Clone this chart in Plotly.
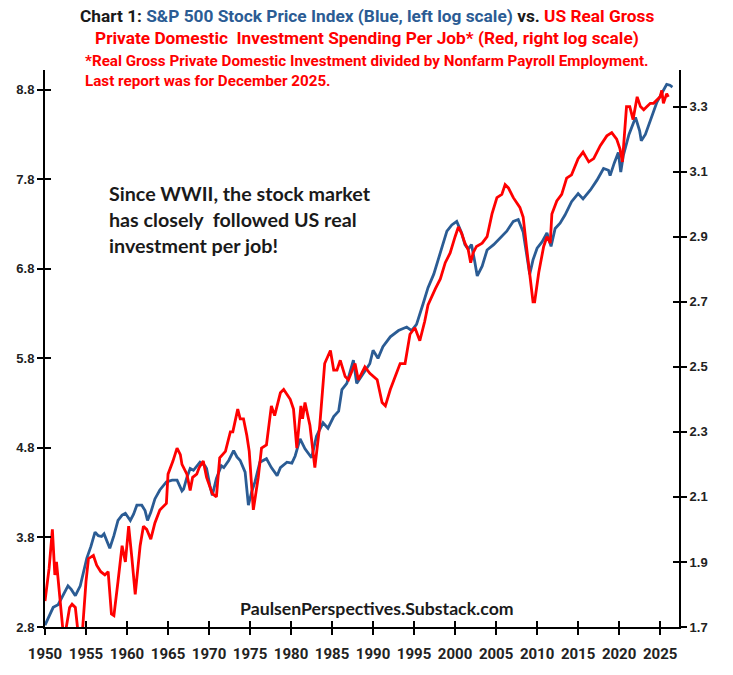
import plotly.graph_objects as go

# ---------------- data ----------------
blue_years = [1950.0, 1950.5, 1951.0, 1951.6, 1952.2, 1952.8, 1953.2, 1953.7, 1954.3, 1954.7,
              1955.1, 1955.6, 1956.1, 1956.5, 1956.9, 1957.2, 1957.9, 1958.4, 1958.9, 1959.4,
              1959.8, 1960.4, 1960.8, 1961.2, 1961.8, 1962.2, 1962.5, 1962.9, 1963.4, 1964.0,
              1964.8, 1965.5, 1966.1, 1966.7, 1966.9, 1967.3, 1967.7, 1968.1, 1968.7, 1968.9,
              1969.5, 1969.7, 1970.1, 1970.4, 1970.9, 1971.5, 1971.8, 1972.4, 1973.0, 1973.4,
              1973.8, 1974.4, 1974.8, 1975.2, 1975.6, 1976.2, 1977.0, 1977.6, 1978.3, 1978.7,
              1979.5, 1980.1, 1980.5, 1981.1, 1981.7, 1982.5, 1983.1, 1983.9, 1984.5, 1985.2,
              1985.8, 1986.2, 1986.8, 1987.6, 1988.0, 1988.8, 1989.6, 1990.0, 1990.6, 1991.2,
              1992.1, 1993.1, 1994.1, 1994.7, 1995.3, 1996.1, 1996.7, 1997.4, 1998.0, 1998.4,
              1999.0, 1999.6, 2000.2, 2000.8, 2001.2, 2001.6, 2002.0, 2002.4, 2002.7, 2003.3,
              2003.9, 2004.7, 2005.5, 2006.3, 2007.1, 2007.7, 2008.3, 2008.7, 2009.1, 2009.5,
              2010.0, 2010.6, 2011.2, 2011.7, 2012.2, 2012.8, 2013.4, 2014.2, 2015.0, 2015.6,
              2016.5, 2017.3, 2018.1, 2018.7, 2018.9, 2019.4, 2019.9, 2020.2, 2020.5, 2021.2,
              2021.8, 2022.0, 2022.5, 2022.7, 2023.2, 2023.6, 2024.0, 2024.6, 2025.2, 2025.8,
              2026.2, 2026.5]
blue_values = [2.82, 2.92, 3.02, 3.05, 3.16, 3.26, 3.22, 3.15, 3.26, 3.42,
               3.57, 3.70, 3.86, 3.82, 3.81, 3.84, 3.68, 3.82, 3.99, 4.05,
               4.07, 3.99, 4.06, 4.16, 4.16, 4.10, 3.99, 4.08, 4.23, 4.33,
               4.42, 4.44, 4.44, 4.32, 4.34, 4.47, 4.57, 4.55, 4.62, 4.64,
               4.60, 4.57, 4.38, 4.27, 4.46, 4.60, 4.58, 4.66, 4.77, 4.70,
               4.66, 4.53, 4.16, 4.31, 4.42, 4.64, 4.68, 4.58, 4.49, 4.58,
               4.64, 4.63, 4.71, 4.90, 4.79, 4.69, 4.93, 5.08, 5.02, 5.15,
               5.21, 5.45, 5.52, 5.78, 5.52, 5.63, 5.74, 5.89, 5.80, 5.93,
               6.04, 6.11, 6.15, 6.11, 6.18, 6.41, 6.59, 6.74, 6.92, 7.03,
               7.22, 7.29, 7.33, 7.20, 7.07, 7.02, 7.07, 6.88, 6.72, 6.83,
               7.01, 7.07, 7.14, 7.22, 7.33, 7.35, 7.21, 6.96, 6.74, 6.90,
               7.03, 7.10, 7.20, 7.05, 7.25, 7.31, 7.40, 7.55, 7.64, 7.58,
               7.68, 7.79, 7.92, 7.90, 7.84, 7.98, 8.10, 7.88, 8.06, 8.30,
               8.43, 8.49, 8.34, 8.23, 8.30, 8.41, 8.51, 8.66, 8.76, 8.86,
               8.85, 8.83]

red_years = [1950.0, 1950.5, 1950.9, 1951.2, 1951.4, 1951.7, 1952.0, 1952.3, 1952.6, 1953.0,
             1953.3, 1953.7, 1954.0, 1954.3, 1954.6, 1955.0, 1955.3, 1955.9, 1956.3, 1956.8,
             1957.3, 1957.7, 1958.1, 1958.4, 1958.9, 1959.4, 1959.8, 1960.2, 1960.6, 1961.0,
             1961.6, 1962.0, 1962.4, 1962.9, 1963.4, 1964.0, 1964.8, 1965.0, 1965.6, 1966.1,
             1966.5, 1966.7, 1967.3, 1967.7, 1968.0, 1968.5, 1968.8, 1969.3, 1969.7, 1970.1,
             1970.4, 1970.9, 1971.3, 1972.0, 1972.6, 1972.9, 1973.5, 1973.8, 1974.2, 1974.6,
             1974.9, 1975.4, 1976.0, 1976.4, 1977.0, 1977.6, 1978.0, 1978.7, 1979.1, 1979.9,
             1980.3, 1980.7, 1981.2, 1981.4, 1981.7, 1982.3, 1982.9, 1983.5, 1984.1, 1984.8,
             1985.2, 1985.6, 1986.0, 1986.6, 1987.0, 1987.8, 1988.2, 1989.0, 1989.6, 1990.5,
             1991.1, 1991.5, 1992.1, 1992.7, 1993.3, 1993.9, 1994.5, 1995.1, 1995.7, 1996.3,
             1996.7, 1997.6, 1998.2, 1998.8, 1999.4, 2000.0, 2000.4, 2000.8, 2001.2, 2001.6,
             2001.9, 2002.2, 2002.6, 2003.3, 2003.9, 2004.5, 2005.1, 2005.7, 2006.1, 2006.5,
             2007.1, 2007.9, 2008.3, 2008.7, 2009.1, 2009.5, 2009.7, 2010.2, 2010.8, 2011.2,
             2011.6, 2011.8, 2012.4, 2013.0, 2013.6, 2014.2, 2015.0, 2015.6, 2016.3, 2016.9,
             2017.7, 2018.5, 2019.1, 2019.7, 2020.1, 2020.4, 2020.9, 2021.3, 2021.7, 2022.2,
             2022.6, 2023.0, 2023.4, 2023.8, 2024.2, 2024.6, 2025.0, 2025.2, 2025.4, 2025.8,
             2026.0]
red_values = [1.78, 1.88, 2.00, 1.86, 1.90, 1.82, 1.74, 1.66, 1.70, 1.76,
              1.77, 1.76, 1.69, 1.66, 1.70, 1.84, 1.91, 1.92, 1.89, 1.87,
              1.86, 1.87, 1.74, 1.735, 1.84, 1.95, 1.90, 2.01, 1.91, 1.80,
              1.95, 2.01, 2.00, 1.97, 2.02, 2.06, 2.08, 2.17, 2.21, 2.25,
              2.23, 2.20, 2.17, 2.12, 2.16, 2.17, 2.19, 2.21, 2.16, 2.13,
              2.11, 2.10, 2.22, 2.24, 2.30, 2.30, 2.37, 2.34, 2.34, 2.29,
              2.24, 2.06, 2.16, 2.25, 2.26, 2.38, 2.35, 2.42, 2.43, 2.40,
              2.37, 2.25, 2.38, 2.34, 2.39, 2.32, 2.19, 2.32, 2.51, 2.55,
              2.49, 2.49, 2.52, 2.47, 2.46, 2.51, 2.46, 2.50, 2.48, 2.46,
              2.39, 2.38, 2.43, 2.47, 2.51, 2.51, 2.60, 2.62, 2.58, 2.64,
              2.69, 2.74, 2.77, 2.82, 2.85, 2.90, 2.93, 2.91, 2.88, 2.86,
              2.82, 2.85, 2.87, 2.88, 2.90, 2.97, 3.02, 3.03, 3.06, 3.05,
              3.02, 2.99, 2.96, 2.87, 2.78, 2.70, 2.70, 2.79, 2.87, 2.90,
              2.88, 2.97, 3.01, 3.03, 3.08, 3.09, 3.14, 3.16, 3.13, 3.14,
              3.18, 3.21, 3.22, 3.20, 3.17, 3.13, 3.30, 3.30, 3.26, 3.33,
              3.30, 3.29, 3.30, 3.31, 3.31, 3.32, 3.33, 3.35, 3.31, 3.34,
              3.33]

x_ticks = list(range(1950, 2026, 5))
left_ticks = [2.8, 3.8, 4.8, 5.8, 6.8, 7.8, 8.8]
right_ticks = [1.7, 1.9, 2.1, 2.3, 2.5, 2.7, 2.9, 3.1, 3.3]

BLUE = "#2B5C94"
RED = "#FF0000"
NARROW = "Liberation Sans Narrow, Arial Narrow, Roboto, sans-serif"

X_RANGE = [1950, 2027.3]
YL_RANGE = [2.8, 9.02]
YR_RANGE = [1.7, 3.4125]

fig = go.Figure()
fig.add_trace(go.Scatter(x=red_years, y=red_values, mode="lines",
                         line=dict(color=RED, width=2.8), yaxis="y2", showlegend=False))
fig.add_trace(go.Scatter(x=blue_years, y=blue_values, mode="lines",
                         line=dict(color=BLUE, width=2.8), showlegend=False))
# invisible traces so the overlay (inside-tick) axes exist
fig.add_trace(go.Scatter(x=[None], y=[None], xaxis="x2", yaxis="y3", showlegend=False, hoverinfo="skip"))
fig.add_trace(go.Scatter(x=[None], y=[None], xaxis="x2", yaxis="y4", showlegend=False, hoverinfo="skip"))

tickfont = dict(family="Liberation Sans, Arial, sans-serif", size=13, color="#222", weight="bold")
xtickfont = dict(family=NARROW, size=15, color="#222", weight="bold")

fig.update_layout(
    width=733, height=675,
    margin=dict(l=45, r=54, t=70, b=42),
    paper_bgcolor="white", plot_bgcolor="white",
    xaxis=dict(range=X_RANGE, tickvals=x_ticks, ticks="outside", ticklen=6, tickwidth=2,
               tickcolor="black", showline=True, linewidth=2, linecolor="black",
               showgrid=False, zeroline=False, tickfont=xtickfont, ticklabelstandoff=6),
    xaxis2=dict(range=X_RANGE, overlaying="x", anchor="y", tickvals=x_ticks, ticks="inside",
                ticklen=6, tickwidth=2, tickcolor="black", showticklabels=False,
                showline=False, showgrid=False, zeroline=False),
    yaxis=dict(range=YL_RANGE, tickvals=left_ticks, tickformat=".1f", ticks="outside",
               ticklen=6, tickwidth=2, tickcolor="black", showline=True, linewidth=2,
               linecolor="black", showgrid=False, zeroline=False, tickfont=tickfont),
    yaxis2=dict(range=YR_RANGE, tickvals=right_ticks, tickformat=".1f", overlaying="y",
                side="right", ticks="outside", ticklen=6, tickwidth=2, tickcolor="black",
                showline=True, linewidth=2, linecolor="black", showgrid=False,
                zeroline=False, tickfont=tickfont),
    yaxis3=dict(range=YL_RANGE, tickvals=left_ticks, overlaying="y", side="left",
                ticks="inside", ticklen=6, tickwidth=2, tickcolor="black",
                showticklabels=False, showline=False, showgrid=False, zeroline=False),
    yaxis4=dict(range=YR_RANGE, tickvals=right_ticks, overlaying="y", side="right",
                ticks="inside", ticklen=6, tickwidth=2, tickcolor="black",
                showticklabels=False, showline=False, showgrid=False, zeroline=False),
)

# pixel helpers (plot area: x 45..679, y 70..633)
def px(xp):
    return (xp - 45) / 634.0

def py(yp):
    return (633 - yp) / 563.0

title_font = dict(family=NARROW, size=17.3, weight="bold")
annotations = [
    dict(x=px(367), y=py(15), text=("<span style='color:#1a1a1a'>Chart 1: </span>"
                                    f"<span style='color:{BLUE}'>S&amp;P 500 Stock Price Index (Blue, left log scale)</span>"
                                    "<span style='color:#1a1a1a'> vs. </span>"
                                    f"<span style='color:{RED}'>US Real Gross</span>"),
         font=title_font, xanchor="center"),
    dict(x=px(367), y=py(38), text="Private Domestic  Investment Spending Per Job* (Red, right log scale)",
         font=dict(title_font, color=RED), xanchor="center"),
    dict(x=px(83), y=py(61), text="*Real Gross Private Domestic Investment divided by Nonfarm Payroll Employment.",
         font=dict(family=NARROW, size=15.2, weight="bold", color=RED), xanchor="left"),
    dict(x=px(83), y=py(81), text="Last report was for December 2025.",
         font=dict(family=NARROW, size=15.2, weight="bold", color=RED), xanchor="left"),
    dict(x=px(107), y=py(195), text="Since WWII, the stock market", xanchor="left",
         font=dict(family="Lato, sans-serif", size=19.7, weight="bold", color="#1a1a1a")),
    dict(x=px(107), y=py(221), text="has closely  followed US real", xanchor="left",
         font=dict(family="Lato, sans-serif", size=19.7, weight="bold", color="#1a1a1a")),
    dict(x=px(107), y=py(247), text="investment per job!", xanchor="left",
         font=dict(family="Lato, sans-serif", size=19.7, weight="bold", color="#1a1a1a")),
    dict(x=px(377), y=py(614), text="PaulsenPerspectives.Substack.com", xanchor="center",
         font=dict(family="Lato, sans-serif", size=17.7, weight="bold", color="#1a1a1a")),
]
for a in annotations:
    a.update(xref="paper", yref="paper", yanchor="middle", showarrow=False)
fig.update_layout(annotations=annotations)

fig.write_html("out.html")
